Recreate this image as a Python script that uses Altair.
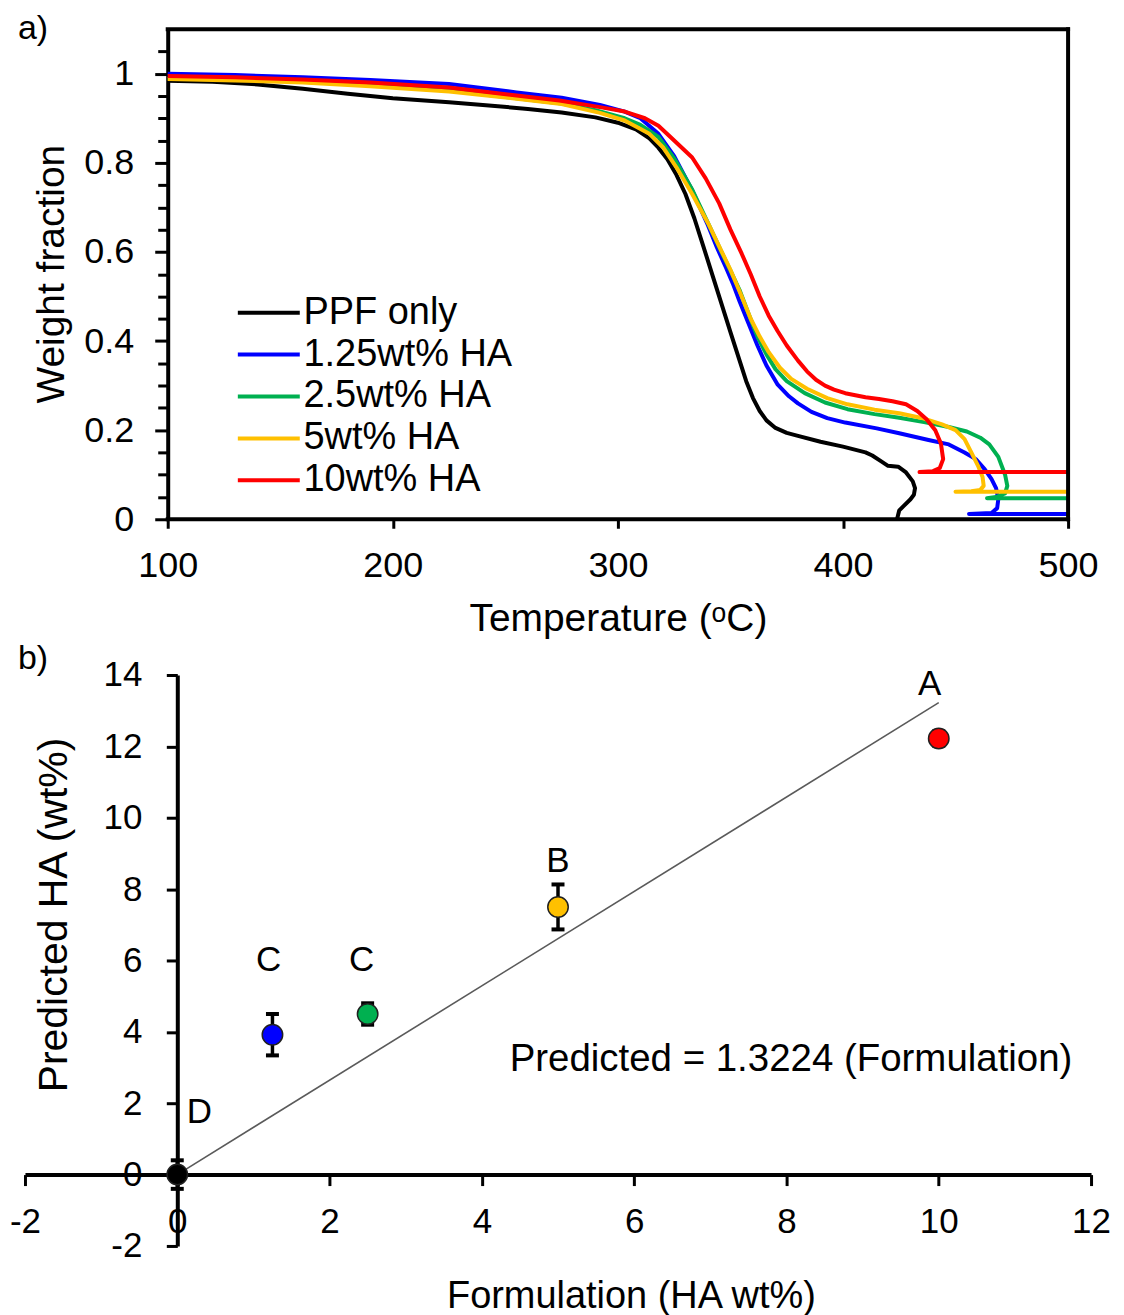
import altair as alt
import pandas as pd

FONT = "Liberation Sans"

# ---------------- Panel a: TGA curves ----------------
series_names = ["PPF only", "1.25wt% HA", "2.5wt% HA", "5wt% HA", "10wt% HA"]
series_colors = ["#000000", "#0000FF", "#00B050", "#FFC000", "#FF0000"]

ppf_T = [100, 120, 140, 160, 180, 200, 225, 240, 260, 275, 290, 300, 308, 314, 318, 322, 326, 330, 334, 338,
         342, 346, 350, 354, 357, 360, 363, 366, 370, 375, 380, 390, 400, 410, 413, 417, 420, 424.5, 428, 431,
         432, 431.5, 430, 427, 425, 424]
ppf_W = [0.984, 0.982, 0.976, 0.966, 0.955, 0.945, 0.936, 0.93, 0.921, 0.913, 0.902, 0.89, 0.875, 0.855, 0.834,
         0.808, 0.773, 0.73, 0.675, 0.612, 0.548, 0.484, 0.42, 0.357, 0.31, 0.272, 0.243, 0.222, 0.205, 0.194,
         0.187, 0.174, 0.163, 0.15, 0.143, 0.13, 0.12, 0.118, 0.105, 0.085, 0.07, 0.055, 0.045, 0.03, 0.02, 0.0]

ha125_T = [100, 130, 160, 190, 225, 255, 275, 292, 303, 310, 318, 325, 333, 340, 344, 348, 351, 354, 358, 362,
           366, 371, 376, 380, 386, 393, 401, 415, 425, 438, 447, 454, 459, 463, 466, 468, 469, 468.5, 466,
           456, 500]
ha125_W = [1.0, 0.997, 0.992, 0.986, 0.977, 0.958, 0.946, 0.93, 0.915, 0.9, 0.865, 0.815, 0.738, 0.66, 0.61,
           0.565, 0.53, 0.49, 0.44, 0.39, 0.345, 0.302, 0.276, 0.26, 0.241, 0.227, 0.217, 0.204, 0.193, 0.178,
           0.168, 0.15, 0.135, 0.112, 0.09, 0.07, 0.045, 0.025, 0.014, 0.012, 0.012]

ha25_T = [100, 130, 160, 190, 225, 255, 275, 290, 303, 310, 318, 325, 333, 340, 346, 350, 354, 358, 362, 366,
          370, 375, 383, 392, 402, 414, 425, 436, 447, 455, 461, 465, 469, 472, 473, 472, 468, 464, 500]
ha25_W = [0.99, 0.987, 0.982, 0.974, 0.962, 0.945, 0.933, 0.918, 0.9, 0.885, 0.858, 0.81, 0.74, 0.665, 0.6,
          0.558, 0.515, 0.462, 0.41, 0.37, 0.337, 0.31, 0.283, 0.262, 0.247, 0.236, 0.228, 0.218, 0.207,
          0.197, 0.183, 0.168, 0.14, 0.1, 0.075, 0.058, 0.05, 0.047, 0.047]

ha5_T = [100, 130, 160, 190, 225, 255, 275, 292, 303, 314, 320, 326, 333, 340, 346, 350, 355, 359, 363, 367,
         372, 377, 384, 393, 402, 414, 425, 436, 444, 450, 454, 457, 460, 462, 462.5, 461, 457, 450, 500]
ha5_W = [0.988, 0.985, 0.98, 0.972, 0.96, 0.944, 0.932, 0.912, 0.895, 0.865, 0.835, 0.79, 0.73, 0.665, 0.602,
         0.56, 0.5, 0.45, 0.41, 0.375, 0.34, 0.315, 0.293, 0.272, 0.258, 0.246, 0.238, 0.226, 0.213, 0.2,
         0.18, 0.15, 0.12, 0.095, 0.075, 0.066, 0.063, 0.062, 0.062]

ha10_T = [100, 130, 160, 190, 225, 255, 274, 292, 303, 312, 318, 325, 333, 339, 345, 350, 355, 359, 363, 367,
          371, 375, 380, 384, 388, 392, 396, 401, 410, 416, 422, 428, 433, 437, 441, 443.5, 444.5, 443, 440,
          434, 500]
ha10_W = [0.995, 0.992, 0.987, 0.98, 0.969, 0.951, 0.94, 0.925, 0.915, 0.9, 0.883, 0.85, 0.812, 0.765, 0.709,
          0.65, 0.596, 0.55, 0.5, 0.457, 0.422, 0.39, 0.356, 0.332, 0.313, 0.3, 0.291, 0.283, 0.274, 0.27,
          0.265, 0.258, 0.243, 0.225, 0.2, 0.17, 0.135, 0.115, 0.108, 0.106, 0.106]

a_xticks = [100, 200, 300, 400, 500]
a_yticks = [0, 0.05, 0.1, 0.15, 0.2, 0.25, 0.3, 0.35, 0.4, 0.45, 0.5, 0.55, 0.6, 0.65, 0.7, 0.75, 0.8, 0.85,
            0.9, 0.95, 1.0, 1.05]
a_tmin, a_tmax = 100, 500
a_wmin, a_wmax = 0, 1.1

# ---------------- Panel b: predicted vs formulation ----------------
form_x = [0, 1.25, 2.5, 5, 10]
pred_y = [0, 3.92, 4.5, 7.5, 12.22]
pred_err = [0.4, 0.58, 0.3, 0.63, 0.2]
point_colors = ["#000000", "#0000C8", "#00B050", "#FFC000", "#FF0000"]
letters = ["D", "C", "C", "B", "A"]
letter_x = [0.29, 1.2, 2.42, 5.0, 9.88]
letter_y = [1.76, 6.0, 6.0, 8.78, 13.76]
fit_slope = 1.3224
fit_x = [0, 10]
annot_text = ["Predicted = 1.3224 (Formulation)"]
annot_x = [8.06]
annot_y = [3.24]
b_xticks = [-2, 0, 2, 4, 6, 8, 10, 12]
b_yticks = [-2, 0, 2, 4, 6, 8, 10, 12, 14]

# ---------------- build tables ----------------
rows = []
for name, Ts, Ws in zip(series_names,
                        [ppf_T, ha125_T, ha25_T, ha5_T, ha10_T],
                        [ppf_W, ha125_W, ha25_W, ha5_W, ha10_W]):
    for i, (t, w) in enumerate(zip(Ts, Ws)):
        rows.append({"series": name, "T": t, "W": w, "i": i})
df_a = pd.DataFrame(rows)

df_b = pd.DataFrame({"group": series_names, "x": form_x, "y": pred_y, "err": pred_err})
df_b["lo"] = df_b["y"] - df_b["err"]
df_b["hi"] = df_b["y"] + df_b["err"]
df_lab = pd.DataFrame({"x": letter_x, "y": letter_y, "text": letters})
df_fit = pd.DataFrame({"x": fit_x, "y": [fit_slope * v for v in fit_x]})
df_ann = pd.DataFrame({"x": annot_x, "y": annot_y, "text": annot_text})
df_one = pd.DataFrame({"k": [0]})

hyphen_expr = "datum.value < 0 ? '-' + format(-datum.value, 'd') : format(datum.value, 'd')"
major_test = "abs(datum.value*5 - round(datum.value*5)) < 0.001 && datum.value < 1.01"

# ---------------- Panel a chart ----------------
# Plot area spans page x 25..1070; the temperature axis starts at 100 C (page x 168)
A_W = 1045
A_H = 491
a_px_per_deg = 902 / 400.0
a_dom_left = a_tmin - 143 / a_px_per_deg

a_xscale = alt.Scale(domain=[a_dom_left, a_tmax], nice=False, zero=False)
a_yscale = alt.Scale(domain=[a_wmin, a_wmax], nice=False, zero=False)

a_x_axis = alt.Axis(values=a_xticks, title="Temperature (ᵒC)", grid=False, domain=False, labelFontSize=36,
                    titleFontSize=39, tickSize=9, tickWidth=3, labelPadding=20,
                    labelFlush=False, labelOverlap=False, titleX=143 + 451, titleY=99,
                    titleBaseline="middle")
a_y_axis = alt.Axis(values=a_yticks, tickCount=40,
                    labelExpr="(" + major_test + ") ? format(datum.value, '~g') : ''",
                    title="Weight fraction", grid=False, labelFontSize=36, titleFontSize=39,
                    tickSize=alt.ConditionalAxisNumber(condition={"test": major_test, "value": 13}, value=10),
                    tickWidth=3, domainWidth=4, labelPadding=21, labelOverlap=False,
                    offset=-143, titleX=-116, titleY=245, titleBaseline="middle")

a_lines = alt.Chart(df_a).mark_line(strokeWidth=4, strokeJoin="round").encode(
    x=alt.X("T:Q", scale=a_xscale, axis=a_x_axis),
    y=alt.Y("W:Q", scale=a_yscale, axis=a_y_axis),
    color=alt.Color("series:N", sort=series_names,
                    scale=alt.Scale(domain=series_names, range=series_colors),
                    legend=alt.Legend(title=None, orient="none", legendX=238, legendY=265,
                                      symbolType="M-4.23,0H1.77", symbolSize=428, symbolStrokeWidth=4,
                                      labelFontSize=38, labelFont=FONT, labelColor="black",
                                      labelOffset=3, rowPadding=4, padding=0, labelLimit=0)),
    order=alt.Order("i:Q"),
)

frame_style = dict(color="black", strokeWidth=4, strokeCap="square")
a_bottom = alt.Chart(df_one).mark_rule(**frame_style).encode(
    x=alt.datum(a_tmin, scale=a_xscale), x2=alt.datum(a_tmax), y=alt.datum(a_wmin, scale=a_yscale))
a_top = alt.Chart(df_one).mark_rule(**frame_style).encode(
    x=alt.datum(a_tmin, scale=a_xscale), x2=alt.datum(a_tmax), y=alt.datum(a_wmax, scale=a_yscale))
a_right = alt.Chart(df_one).mark_rule(**frame_style).encode(
    x=alt.datum(a_tmax, scale=a_xscale), y=alt.datum(a_wmin, scale=a_yscale), y2=alt.datum(a_wmax))
a_tag = alt.Chart(df_one).mark_text(text="a)", fontSize=34, font=FONT, color="black", align="left",
                                    baseline="alphabetic").encode(x=alt.value(-7), y=alt.value(10))

panel_a = alt.layer(a_lines, a_bottom, a_top, a_right, a_tag).properties(width=A_W, height=A_H)

# ---------------- Panel b chart ----------------
B_W = 1068
B_H = 572
b_x_axis = alt.Axis(values=b_xticks, labelExpr=hyphen_expr, title="Formulation (HA wt%)", grid=False,
                    offset=-71.5, tickSize=11, tickWidth=3, domainWidth=4, labelFontSize=35,
                    labelPadding=19, titleFontSize=38, titleX=607, titleY=122, titleBaseline="middle",
                    labelFlush=False, labelOverlap=False)
b_y_axis = alt.Axis(values=b_yticks, labelExpr=hyphen_expr, title="Predicted HA (wt%)", grid=False,
                    offset=-152.6, tickSize=11, tickWidth=3, domainWidth=4, labelFontSize=35,
                    labelPadding=24.5, titleFontSize=41, titleX=-123, titleY=240, titleBaseline="middle",
                    labelOverlap=False)
b_xscale = alt.Scale(domain=[-2, 12], nice=False, zero=False)
b_yscale = alt.Scale(domain=[-2, 14], nice=False, zero=False)

fit = alt.Chart(df_fit).mark_line(color="#5a5a5a", strokeWidth=1.6).encode(
    x=alt.X("x:Q", scale=b_xscale, axis=b_x_axis),
    y=alt.Y("y:Q", scale=b_yscale, axis=b_y_axis),
)
ebar = alt.Chart(df_b).mark_rule(color="black", strokeWidth=3.5).encode(
    x=alt.X("x:Q", scale=b_xscale, axis=b_x_axis),
    y=alt.Y("lo:Q", scale=b_yscale, axis=b_y_axis),
    y2="hi:Q",
)
cap_lo = alt.Chart(df_b).mark_tick(color="black", orient="horizontal", size=13, thickness=4, opacity=1).encode(
    x=alt.X("x:Q", scale=b_xscale, axis=b_x_axis),
    y=alt.Y("lo:Q", scale=b_yscale, axis=b_y_axis),
)
cap_hi = alt.Chart(df_b).mark_tick(color="black", orient="horizontal", size=13, thickness=4, opacity=1).encode(
    x=alt.X("x:Q", scale=b_xscale, axis=b_x_axis),
    y=alt.Y("hi:Q", scale=b_yscale, axis=b_y_axis),
)
points = alt.Chart(df_b).mark_circle(size=420, opacity=1, stroke="#202020", strokeWidth=1.5).encode(
    x=alt.X("x:Q", scale=b_xscale, axis=b_x_axis),
    y=alt.Y("y:Q", scale=b_yscale, axis=b_y_axis),
    color=alt.Color("group:N", scale=alt.Scale(domain=series_names, range=point_colors), legend=None),
)
labels = alt.Chart(df_lab).mark_text(fontSize=35, font=FONT, color="black", align="center",
                                     baseline="middle").encode(
    x=alt.X("x:Q", scale=b_xscale, axis=b_x_axis),
    y=alt.Y("y:Q", scale=b_yscale, axis=b_y_axis),
    text="text:N",
)
annot = alt.Chart(df_ann).mark_text(fontSize=38.5, font=FONT, color="black", align="center",
                                    baseline="middle").encode(
    x=alt.X("x:Q", scale=b_xscale, axis=b_x_axis),
    y=alt.Y("y:Q", scale=b_yscale, axis=b_y_axis),
    text="text:N",
)
b_tag = alt.Chart(df_one).mark_text(text="b)", fontSize=34, font=FONT, color="black", align="left",
                                    baseline="alphabetic").encode(x=alt.value(-7), y=alt.value(-6))

panel_b = alt.layer(fit, ebar, cap_lo, cap_hi, points, labels, annot, b_tag).properties(width=B_W, height=B_H)

chart = alt.vconcat(panel_a, panel_b, spacing=4).properties(
    padding={"left": 1, "top": 3, "right": 5, "bottom": 5}
).configure_view(strokeWidth=0).configure_axis(
    labelFont=FONT, titleFont=FONT, labelColor="black", titleColor="black", domainColor="black",
    tickColor="black", titleFontWeight="normal"
)

chart.save("out.html", embed_options={"renderer": "svg", "actions": False})
